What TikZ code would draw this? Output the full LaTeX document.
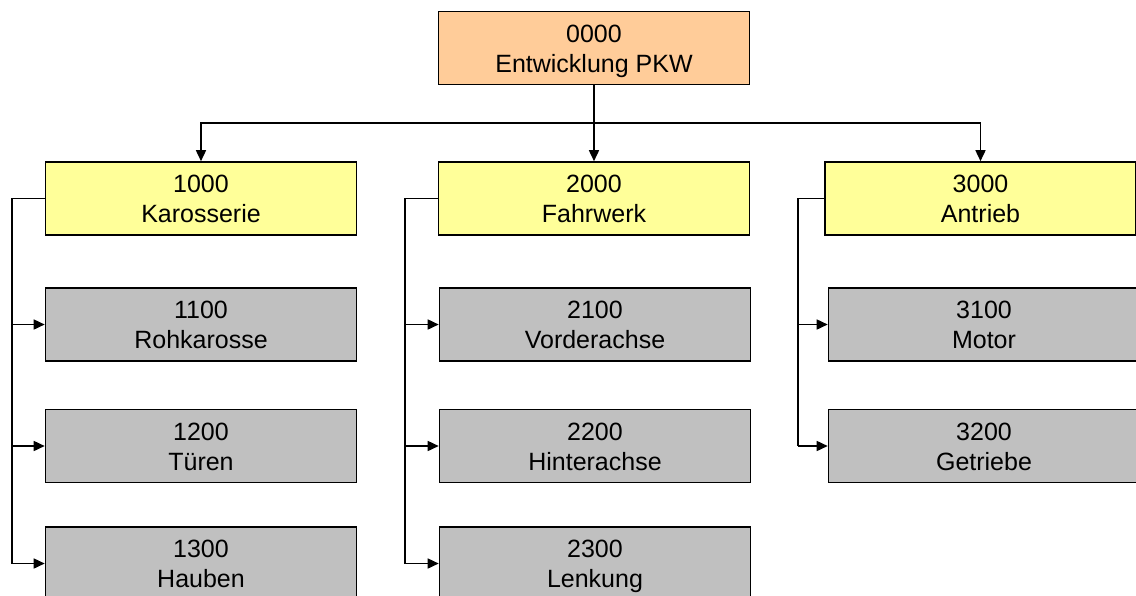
\documentclass[tikz,border=0pt]{standalone}
\usepackage{fontspec}
\setmainfont{Liberation Sans}
\usetikzlibrary{arrows.meta}
\definecolor{topfill}{HTML}{FFCC99}
\definecolor{l1fill}{HTML}{FFFF99}
\definecolor{l2fill}{HTML}{C0C0C0}
\newcommand{\twolines}[2]{\rule{0pt}{27pt}#1\\#2\strut}
\begin{document}
\begin{tikzpicture}[x=1pt,y=-1pt,
  box/.style={draw=black,line width=1.6pt,minimum width=311pt,minimum height=73pt,inner sep=0pt,align=center,font=\fontsize{25}{30}\selectfont},
  topbox/.style={box,fill=topfill},
  l1box/.style={box,fill=l1fill},
  l2box/.style={box,fill=l2fill},
  conn/.style={line width=1.6pt},
  arr/.style={conn,-{Triangle[length=11pt,width=10pt]}}]
\clip (0,0) rectangle (1136,595);
\fill[white] (0,0) rectangle (1136,595);
% nodes
\node[topbox] (top) at (594,48) {\twolines{0000}{Entwicklung PKW}};
\node[l1box] (c1) at (201,198.5) {\twolines{1000}{Karosserie}};
\node[l1box] (c2) at (594,198.5) {\twolines{2000}{Fahrwerk}};
\node[l1box] (c3) at (980.5,198.5) {\twolines{3000}{Antrieb}};
\node[l2box] (g11) at (201,324.5) {\twolines{1100}{Rohkarosse}};
\node[l2box] (g12) at (201,446) {\twolines{1200}{Türen}};
\node[l2box] (g13) at (201,563.5) {\twolines{1300}{Hauben}};
\node[l2box] (g21) at (595,324.5) {\twolines{2100}{Vorderachse}};
\node[l2box] (g22) at (595,446) {\twolines{2200}{Hinterachse}};
\node[l2box] (g23) at (595,563.5) {\twolines{2300}{Lenkung}};
\node[l2box] (g31) at (984,324.5) {\twolines{3100}{Motor}};
\node[l2box] (g32) at (984,446) {\twolines{3200}{Getriebe}};
% top connectors
\coordinate (bus) at (594,123);
\draw[arr] (top.south) -- (c2.north);
\draw[arr] (bus) -| (c1.north);
\draw[arr] (bus) -| (c3.north);
% spines
\coordinate (s1) at (12,0);
\coordinate (s2) at (405,0);
\coordinate (s3) at (798,0);
\draw[conn] (c1.west) -- (c1.west -| s1) -- (g13.west -| s1);
\draw[arr] (g11.west -| s1) -- (g11.west);
\draw[arr] (g12.west -| s1) -- (g12.west);
\draw[arr] (g13.west -| s1) -- (g13.west);
\draw[conn] (c2.west) -- (c2.west -| s2) -- (g23.west -| s2);
\draw[arr] (g21.west -| s2) -- (g21.west);
\draw[arr] (g22.west -| s2) -- (g22.west);
\draw[arr] (g23.west -| s2) -- (g23.west);
\draw[conn] (c3.west) -- (c3.west -| s3) -- (g32.west -| s3);
\draw[arr] (g31.west -| s3) -- (g31.west);
\draw[arr] (g32.west -| s3) -- (g32.west);
\end{tikzpicture}
\end{document}
